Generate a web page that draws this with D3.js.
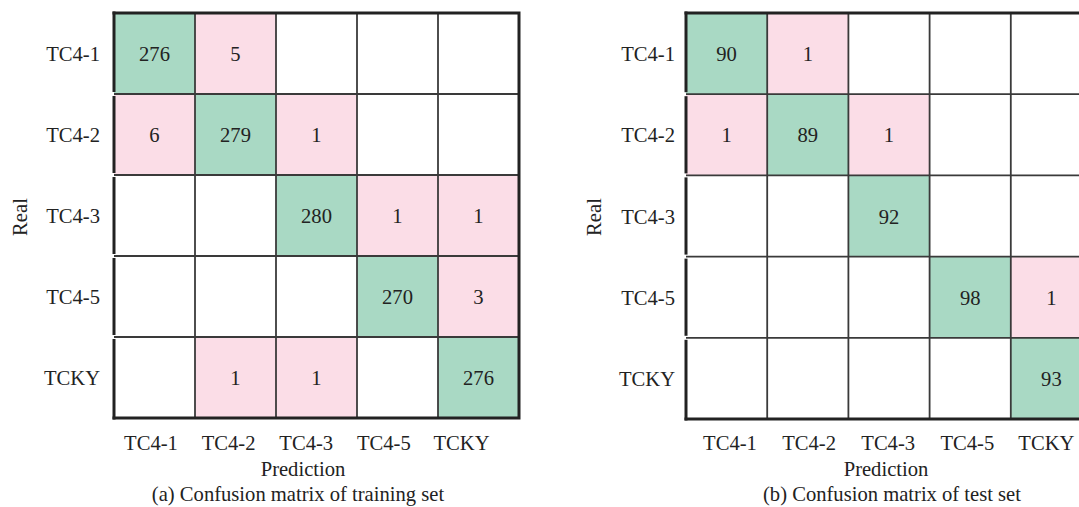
<!DOCTYPE html>
<html>
<head>
<meta charset="utf-8">
<script src="https://cdn.jsdelivr.net/npm/d3@7"></script>
<style>
  html, body { margin: 0; padding: 0; background: #fff; }
  svg { display: block; }
  text { font-family: "Liberation Serif", "Times New Roman", serif; fill: #222; }
</style>
</head>
<body>
<svg id="chart" width="1079" height="507"></svg>
<script>
// Class labels shared by both matrices
const classes = ["TC4-1", "TC4-2", "TC4-3", "TC4-5", "TCKY"];

// Confusion counts, rows = real class, columns = predicted class (0 = empty cell)
const trainMatrix = [
  [276, 5, 0, 0, 0],
  [6, 279, 1, 0, 0],
  [0, 0, 280, 1, 1],
  [0, 0, 0, 270, 3],
  [0, 1, 1, 0, 276]
];
const testMatrix = [
  [90, 1, 0, 0, 0],
  [1, 89, 1, 0, 0],
  [0, 0, 92, 0, 0],
  [0, 0, 0, 98, 1],
  [0, 0, 0, 0, 93]
];

const captions = [
  "(a) Confusion matrix of training set",
  "(b) Confusion matrix of test set"
];

const GREEN = "#a9d9c4", PINK = "#fbdde7";
const FS = 20.6;

const svg = d3.select("#chart");

const panels = [
  { data: trainMatrix, caption: captions[0], x0: 114, size: 405,
    tick: [-3.5, -17], rowGap: 14, realX: 20, predX: 303, capX: 298 },
  { data: testMatrix, caption: captions[1], x0: 686, size: 406,
    tick: [3.4, -5], rowGap: 11, realX: 594, predX: 886, capX: 892 }
];

const y0 = 13;

panels.forEach(p => {
  const g = svg.append("g");
  const x = d3.scaleBand().domain(classes).range([p.x0, p.x0 + p.size]);
  const y = d3.scaleBand().domain(classes).range([y0, y0 + p.size]);
  const bw = x.bandwidth();

  const cells = [];
  p.data.forEach((row, i) => row.forEach((v, j) => {
    cells.push({ real: classes[i], pred: classes[j], value: v, diag: i === j });
  }));

  // cell fills
  g.selectAll("rect.cell").data(cells).join("rect")
    .attr("class", "cell")
    .attr("x", d => x(d.pred))
    .attr("y", d => y(d.real))
    .attr("width", bw)
    .attr("height", y.bandwidth())
    .attr("fill", d => d.value === 0 ? "#fff" : (d.diag ? GREEN : PINK));

  // inner grid lines
  classes.slice(1).forEach(c => {
    g.append("line")
      .attr("x1", x(c)).attr("x2", x(c))
      .attr("y1", y0).attr("y2", y0 + p.size)
      .attr("stroke", "#3a3a3a").attr("stroke-width", 1.8);
    g.append("line")
      .attr("x1", p.x0).attr("x2", p.x0 + p.size)
      .attr("y1", y(c)).attr("y2", y(c))
      .attr("stroke", "#3a3a3a").attr("stroke-width", 1.8);
  });

  // outer frame: top, right, bottom
  g.append("path")
    .attr("d", `M${p.x0 - 1.5},${y0} H${p.x0 + p.size} V${y0 + p.size} H${p.x0 - 1.5}`)
    .attr("fill", "none").attr("stroke", "#222").attr("stroke-width", 3);
  // left edge drawn row by row
  classes.forEach(c => {
    g.append("line")
      .attr("x1", p.x0).attr("x2", p.x0)
      .attr("y1", y(c) + (c === classes[0] ? -1.5 : 2))
      .attr("y2", y(c) + y.bandwidth() - (c === classes[classes.length - 1] ? -1.5 : 2))
      .attr("stroke", "#222").attr("stroke-width", 3);
  });

  // cell values
  g.selectAll("text.val").data(cells.filter(d => d.value > 0)).join("text")
    .attr("class", "val")
    .attr("x", d => x(d.pred) + bw / 2)
    .attr("y", d => y(d.real) + y.bandwidth() / 2 + 7.5)
    .attr("text-anchor", "middle")
    .attr("font-size", FS)
    .text(d => d.value);

  // row labels
  g.selectAll("text.rowlab").data(classes).join("text")
    .attr("class", "rowlab")
    .attr("x", p.x0 - p.rowGap)
    .attr("y", d => y(d) + y.bandwidth() / 2 + 7.5)
    .attr("text-anchor", "end")
    .attr("font-size", FS)
    .text(d => d);

  // column labels
  const tx = d3.scalePoint().domain(classes)
    .range([x(classes[0]) + bw / 2 + p.tick[0], x(classes[4]) + bw / 2 + p.tick[1]]);
  g.selectAll("text.collab").data(classes).join("text")
    .attr("class", "collab")
    .attr("x", d => tx(d))
    .attr("y", 450)
    .attr("text-anchor", "middle")
    .attr("font-size", FS)
    .text(d => d);

  g.append("text")
    .attr("x", p.predX).attr("y", 476)
    .attr("text-anchor", "middle").attr("font-size", FS)
    .text("Prediction");

  g.append("text")
    .attr("x", p.capX).attr("y", 501)
    .attr("text-anchor", "middle").attr("font-size", FS)
    .text(p.caption);

  g.append("text")
    .attr("transform", `translate(${p.realX + 7},217) rotate(-90)`)
    .attr("text-anchor", "middle").attr("font-size", FS)
    .text("Real");
});
</script>
</body>
</html>
